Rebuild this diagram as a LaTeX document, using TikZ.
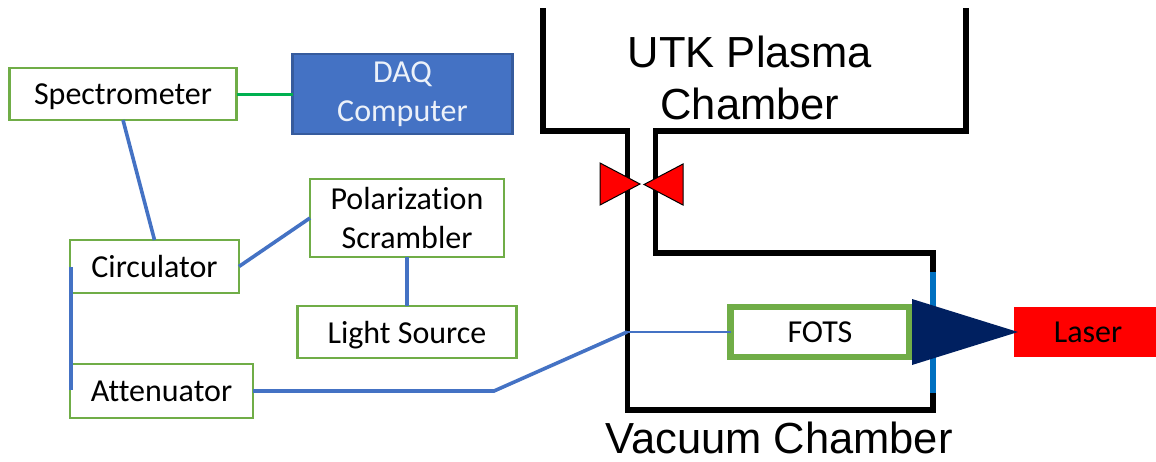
\documentclass[tikz,border=0pt]{standalone}
\usepackage{fontspec}
\setmainfont[Ligatures=NoCommon]{Carlito}
\newfontfamily\labelfont{Liberation Sans}
\usetikzlibrary{positioning}
\definecolor{boxgreen}{HTML}{70AD47}
\definecolor{fibblue}{HTML}{4472C4}
\definecolor{linkgreen}{HTML}{00B050}
\definecolor{winblue}{HTML}{0070C0}
\definecolor{conenavy}{HTML}{002060}
\tikzset{
  blk/.style    = {draw=boxgreen, fill=white, align=center, inner sep=0pt, outer sep=0pt,
                   line width=2.2pt, font=\fontsize{32}{39}\selectfont},
  daq/.style    = {blk, draw=fibblue!80!black, fill=fibblue, text=white!90!fibblue},
  fots/.style   = {blk, line width=6.5pt},
  laser/.style  = {blk, draw=none, fill=red, text=black},
  chlab/.style  = {font=\labelfont\fontsize{43.5}{52}\selectfont, align=center, inner sep=0pt},
  fib/.style    = {draw=fibblue, line width=3.6pt},
  fibthin/.style= {draw=fibblue, line width=2.4pt},
  wall/.style   = {draw=black, line width=5.2pt, miter limit=4},
  valve/.style  = {draw=black, fill=red, line width=1pt},
}
\begin{document}
\begin{tikzpicture}[x=1pt, y=-1pt]
\useasboundingbox (0,0) rectangle (1156,461);
% chambers
\draw[wall] (543,8) |- (627.5,131) -- (627.5,410) -- (933,410) -- (933,253) -- (655.5,253) -- (655.5,131) -- (966,131) -- (966,8);
\draw[winblue, line width=6.5pt] (933,272) -- (933,393);
% gate valve
\draw[valve] (600,163) -- (640,184) -- (600,205) -- cycle;
\draw[valve] (683,164) -- (644,184.5) -- (683,205) -- cycle;
\node[chlab] (utk) at (750,78) {UTK Plasma\\Chamber};
\node[chlab] (vac) at (779,438) {Vacuum Chamber};
% boxes on the left
\node[blk, text depth=0pt, minimum width=227pt, minimum height=52pt] (spec) at (123,94) {Spectrometer};
\node[daq, minimum width=220pt, minimum height=80pt, right=56pt of spec] (comp) {DAQ\\Computer};
\node[blk, minimum width=194pt, minimum height=78pt] (scram) at (407,218) {Polarization\\Scrambler};
\node[blk, text depth=0pt, minimum width=219pt, minimum height=52pt, below=49pt of scram] (light) {Light Source};
\node[blk, minimum width=169pt, minimum height=53pt] (circ) at (154.5,266.5) {Circulator};
\node[blk, minimum width=183pt, minimum height=54pt] (att) at (161.5,391) {Attenuator};
% optical head
\node[fots, minimum width=179pt, minimum height=50pt] (head) at (820,332) {FOTS};
\node[laser, minimum width=142pt, minimum height=50pt] (las) at (1085,332) {\hspace{6pt}Laser};
\fill[conenavy] (912,299) -- (1018,332) -- (912,365) -- cycle;
% links
\coordinate (port) at (627,332);
\coordinate (bend) at (494,391);
\coordinate (busa) at (71,267);
\coordinate (busb) at (71,390);
\draw[linkgreen, line width=3pt] (spec) -- (comp);
\draw[fib] (123,120) -- (circ.north);
\draw[fib] (circ.east) -- (scram.west);
\draw[fib] (scram) -- (light);
\draw[fib, line width=4.6pt] (busa) -- (busb);
\draw[fib] (att.east) -- (bend) -- (port);
\draw[fibthin] (port) -- (head.west);
\end{tikzpicture}
\end{document}
